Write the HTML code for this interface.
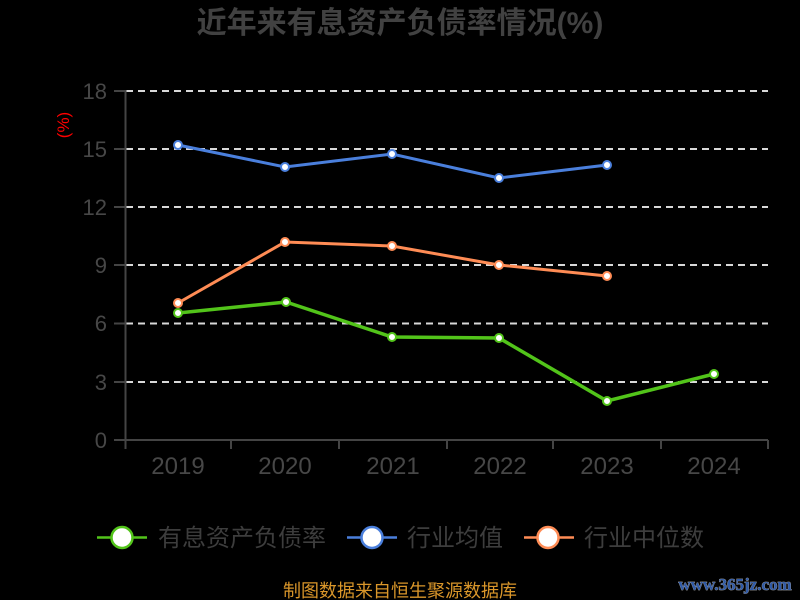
<!DOCTYPE html>
<html><head><meta charset="utf-8"><style>
html,body{margin:0;padding:0;background:#000;}
svg{display:block;}
</style></head><body>
<svg width="800" height="600" viewBox="0 0 800 600" xmlns="http://www.w3.org/2000/svg">
<rect width="800" height="600" fill="#000"/>
<text x="400" y="33" text-anchor="middle" font-family="'Liberation Sans','Noto Sans CJK SC',sans-serif" font-weight="bold" font-size="30" fill="#414141">近年来有息资产负债率情况(%)</text>

<g stroke="#d8d8d8" stroke-width="2" stroke-dasharray="7,5">
<line x1="126" y1="91" x2="768" y2="91"/>
<line x1="126" y1="149" x2="768" y2="149"/>
<line x1="126" y1="207" x2="768" y2="207"/>
<line x1="126" y1="265" x2="768" y2="265"/>
<line x1="126" y1="323.5" x2="768" y2="323.5"/>
<line x1="126" y1="382" x2="768" y2="382"/>
</g>
<g stroke="#444" stroke-width="2" fill="none">
<line x1="125.5" y1="90" x2="125.5" y2="441"/>
<line x1="114" y1="91" x2="125" y2="91"/>
<line x1="114" y1="149" x2="125" y2="149"/>
<line x1="114" y1="207" x2="125" y2="207"/>
<line x1="114" y1="265" x2="125" y2="265"/>
<line x1="114" y1="323.5" x2="125" y2="323.5"/>
<line x1="114" y1="382" x2="125" y2="382"/>
<line x1="114" y1="440" x2="768" y2="440"/>
<line x1="125.5" y1="440" x2="125.5" y2="449"/>
<line x1="231" y1="440" x2="231" y2="449"/>
<line x1="339" y1="440" x2="339" y2="449"/>
<line x1="447" y1="440" x2="447" y2="449"/>
<line x1="553" y1="440" x2="553" y2="449"/>
<line x1="661" y1="440" x2="661" y2="449"/>
<line x1="768" y1="440" x2="768" y2="449"/>
</g>
<g font-family="'Liberation Sans',sans-serif" font-size="22" fill="#474747" text-anchor="end">
<text x="107" y="99">18</text>
<text x="107" y="157">15</text>
<text x="107" y="215">12</text>
<text x="107" y="273">9</text>
<text x="107" y="331">6</text>
<text x="107" y="390">3</text>
<text x="107" y="448">0</text>
</g>
<text transform="translate(69,125) rotate(-90)" text-anchor="middle" font-family="'Liberation Sans',sans-serif" font-size="17" fill="#ff0000">(%)</text>
<g font-family="'Liberation Sans',sans-serif" font-size="24" fill="#474747" text-anchor="middle">
<text x="178" y="474">2019</text>
<text x="285" y="474">2020</text>
<text x="393" y="474">2021</text>
<text x="500" y="474">2022</text>
<text x="607" y="474">2023</text>
<text x="714" y="474">2024</text>
</g>

<polyline fill="none" stroke="#4a7fdc" stroke-width="3" points="178,145 285,167 392,154 499,178 607,165"/>
<polyline fill="none" stroke="#ff8c55" stroke-width="3" points="178,303 285,242 392,246 499,265 607,276"/>
<polyline fill="none" stroke="#52c41a" stroke-width="3.5" points="178,313 286,302 392,337 499,338 607,401 714,374"/>

<g fill="#fff" stroke="#4a7fdc" stroke-width="2">
<circle cx="178" cy="145" r="4"/><circle cx="285" cy="167" r="4"/><circle cx="392" cy="154" r="4"/><circle cx="499" cy="178" r="4"/><circle cx="607" cy="165" r="4"/>
</g>
<g fill="#fff" stroke="#ff8c55" stroke-width="2">
<circle cx="178" cy="303" r="4"/><circle cx="285" cy="242" r="4"/><circle cx="392" cy="246" r="4"/><circle cx="499" cy="265" r="4"/><circle cx="607" cy="276" r="4"/>
</g>
<g fill="#fff" stroke="#52c41a" stroke-width="2">
<circle cx="178" cy="313" r="4"/><circle cx="286" cy="302" r="4"/><circle cx="392" cy="337" r="4"/><circle cx="499" cy="338" r="4"/><circle cx="607" cy="401" r="4"/><circle cx="714" cy="374" r="4"/>
</g>

<g font-family="'Liberation Sans','Noto Sans CJK SC',sans-serif" font-size="24" fill="#3d3d3d">
<line x1="97" y1="537.5" x2="147" y2="537.5" stroke="#52c41a" stroke-width="2.5"/>
<ellipse cx="122" cy="537.5" rx="10.5" ry="10.5" fill="#fff" stroke="#52c41a" stroke-width="2.5"/>
<text x="158" y="546">有息资产负债率</text>
<line x1="347" y1="537.5" x2="397" y2="537.5" stroke="#4a7fdc" stroke-width="2.5"/>
<ellipse cx="372" cy="537.5" rx="10.5" ry="10.5" fill="#fff" stroke="#4a7fdc" stroke-width="2.5"/>
<text x="407" y="546">行业均值</text>
<line x1="524" y1="537.5" x2="574" y2="537.5" stroke="#ff8c55" stroke-width="2.5"/>
<ellipse cx="548" cy="537.5" rx="10.5" ry="10.5" fill="#fff" stroke="#ff8c55" stroke-width="2.5"/>
<text x="584" y="546">行业中位数</text>
</g>

<text x="400" y="597" text-anchor="middle" font-family="'Liberation Sans','Noto Sans CJK SC',sans-serif" font-size="18" fill="#d9962a">制图数据来自恒生聚源数据库</text>
<text x="735" y="590" text-anchor="middle" font-family="'Liberation Serif',serif" font-weight="bold" font-size="17" fill="#2f5aa8" stroke="#9a9a9a" stroke-width="0.8" paint-order="stroke">www.365jz.com</text>
</svg>
</body></html>
